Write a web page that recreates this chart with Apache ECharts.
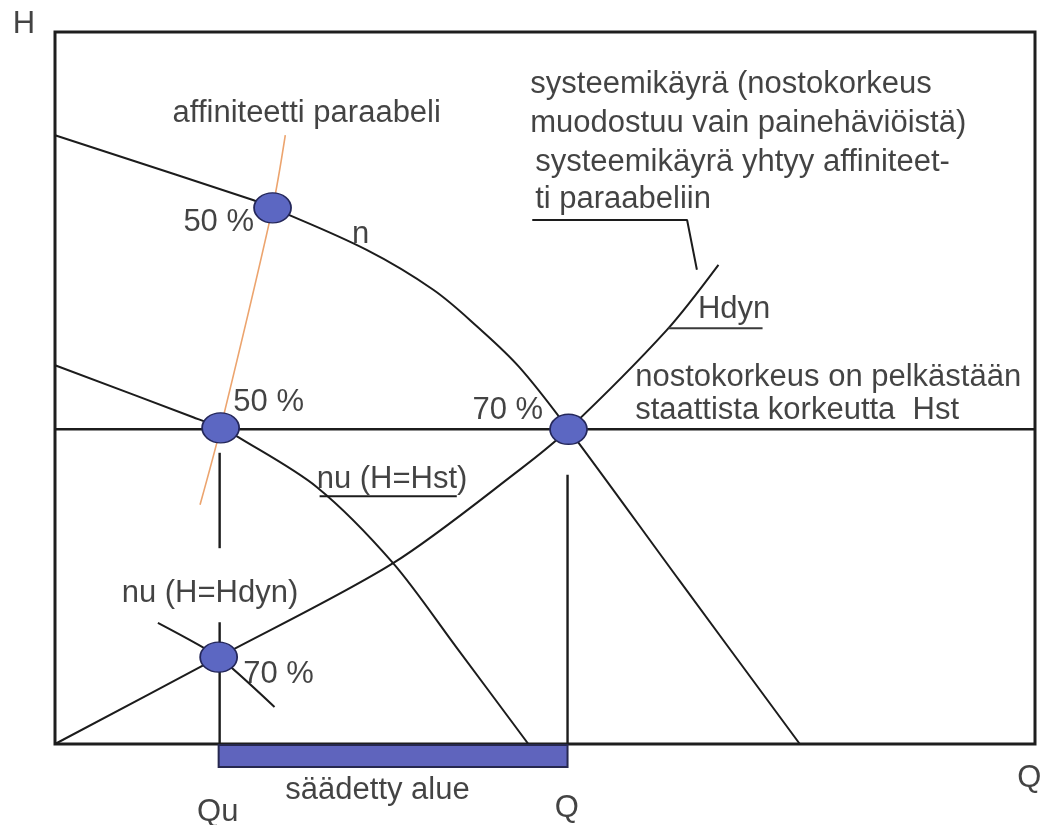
<!DOCTYPE html>
<html>
<head>
<meta charset="utf-8">
<title>Pumpun säätö – Q/H-käyrästö</title>
<script src="https://cdn.jsdelivr.net/npm/echarts@6/dist/echarts.min.js"></script>
<style>
  html, body { margin: 0; padding: 0; background: #ffffff; }
  #chart { width: 1041px; height: 825px; }
</style>
</head>
<body>
<div id="chart"></div>
<script>
// Q = flow, H = head (relative units, 0..100 on both axes)

// Pump curve at full speed n
const curveN = [[0, 85.5], [20.2, 76.4], [22.2, 75.3], [31.8, 69.4], [38.6, 63.8], [43.1, 58.6], [47.4, 52.9], [52.4, 44.2], [63.8, 22.8], [76.0, 0]];
// Pump curve at reduced speed nu (H = Hst)
const curveNuHst = [[0, 53.2], [14.1, 45.9], [16.9, 44.4], [18.7, 43.1], [26.7, 36.1], [34.5, 25.4], [41.0, 13.5], [48.3, 0]];
// System curve (Hdyn)
const curveSystem = [[0, 0], [16.7, 12.2], [34.5, 25.4], [47.4, 38.5], [52.4, 44.2], [62.4, 58.1], [67.7, 67.3]];
// Affinity parabola
const curveAffinity = [[14.8, 33.6], [16.9, 44.4], [22.2, 75.3], [23.5, 85.5]];
// Reduced speed curve nu (H = Hdyn), short piece around its operating point
const curveNuHdyn = [[10.5, 17.0], [16.7, 12.2], [22.4, 5.2]];

// Static head Hst
const hst = 44.2;
// Flow at reduced speed and nominal flow
const qu = 16.8;
const qNom = 52.3;

// Operating points
const pointsOp = [[22.2, 75.3], [16.9, 44.4], [52.4, 44.2], [16.7, 12.2]];

// Vertical guide pieces [q, hFrom, hTo]
const guides = [[qu, 40.9, 27.5], [qu, 17.1, 0], [qNom, 37.8, 0]];

// Leader and underline strokes for the notes
const leaderSystem = [[48.7, 73.6], [64.5, 73.6], [65.5, 66.6]];
const underlineHdyn = [[62.6, 58.4], [72.2, 58.4]];
const underlineNuHst = [[27.0, 34.8], [41.0, 34.8]];

// Notes: [q, h, text], text starts at (q, h), vertically centred
const notes = [
  [-4.3, 101.0, 'H'],
  [12.0, 88.6, 'affiniteetti paraabeli'],
  [13.1, 73.3, '50 %'],
  [30.3, 71.6, 'n'],
  [18.2, 47.9, '50 %'],
  [42.6, 46.9, '70 %'],
  [48.5, 92.6, 'systeemikäyrä (nostokorkeus'],
  [48.5, 87.2, 'muodostuu vain painehäviöistä)'],
  [49.0, 81.7, 'systeemikäyrä yhtyy affiniteet-'],
  [49.0, 76.5, 'ti paraabeliin'],
  [65.6, 61.0, 'Hdyn'],
  [59.2, 51.5, 'nostokorkeus on pelkästään'],
  [59.2, 46.8, 'staattista korkeutta  Hst'],
  [26.7, 37.1, 'nu (H=Hst)'],
  [6.8, 21.2, 'nu (H=Hdyn)'],
  [19.2, 9.7, '70 %'],
  [23.5, -6.5, 'säädetty alue'],
  [14.5, -9.6, 'Qu'],
  [51.0, -9.0, 'Q'],
  [98.2, -4.8, 'Q']
];

const ink = '#1c1c1c';

function lineSeries(name, data, opts) {
  return Object.assign({
    name: name,
    type: 'line',
    data: data,
    symbol: 'none',
    smooth: false,
    silent: true,
    clip: false,
    lineStyle: { color: ink, width: 2 },
    z: 3
  }, opts || {});
}

const series = [
  lineSeries('n', curveN, { smooth: 0.35 }),
  lineSeries('nu (H=Hst)', curveNuHst, { smooth: 0.3 }),
  lineSeries('Hdyn', curveSystem, { smooth: 0.3 }),
  lineSeries('nu (H=Hdyn)', curveNuHdyn, { smooth: 0.2 }),
  lineSeries('affiniteetti paraabeli', curveAffinity, { smooth: 0.3, lineStyle: { color: '#eca46e', width: 1.6 }, z: 2 }),
  lineSeries('Hst', [[0, hst], [100, hst]], { lineStyle: { color: ink, width: 2.6 } }),
  lineSeries('leader-system', leaderSystem, { lineStyle: { color: ink, width: 2 } }),
  lineSeries('underline-hdyn', underlineHdyn, { lineStyle: { color: '#3a3a3a', width: 2 } }),
  lineSeries('underline-nuhst', underlineNuHst, { lineStyle: { color: ink, width: 2 } })
];

guides.forEach(function (g, i) {
  series.push(lineSeries('guide-' + i, [[g[0], g[1]], [g[0], g[2]]], { lineStyle: { color: ink, width: 2.4 } }));
});

// Controlled range bar under the Q axis, between Qu and Q
series.push({
  name: 'säädetty alue',
  type: 'custom',
  silent: true,
  clip: false,
  z: 4,
  data: [[qu, qNom]],
  renderItem: function (params, api) {
    const a = api.coord([api.value(0), 0]);
    const b = api.coord([api.value(1), 0]);
    return {
      type: 'rect',
      shape: { x: a[0] - 1, y: a[1] + 1, width: b[0] - a[0] + 1, height: 22 },
      style: { fill: '#5f64bd', stroke: '#26284f', lineWidth: 2 }
    };
  }
});

// Operating points
series.push({
  name: 'points',
  type: 'scatter',
  data: pointsOp,
  symbol: 'circle',
  symbolSize: [37, 30],
  silent: true,
  clip: false,
  itemStyle: { color: '#5c67c2', borderColor: '#24275a', borderWidth: 1.6, opacity: 1 },
  z: 6
});

// Text notes
series.push({
  name: 'notes',
  type: 'scatter',
  data: notes.map(function (n) { return { value: [n[0], n[1]], label: { formatter: n[2] } }; }),
  symbolSize: 0,
  silent: true,
  clip: false,
  label: {
    show: true,
    position: 'right',
    distance: 0,
    color: '#141414',
    fontFamily: '"Liberation Sans", Arial, sans-serif',
    fontSize: 31,
    align: 'left',
    verticalAlign: 'middle'
  },
  z: 8
});

const chart = echarts.init(document.getElementById('chart'), null, { renderer: 'canvas' });
chart.setOption({
  backgroundColor: '#ffffff',
  animation: false,
  grid: {
    left: 55, top: 32, width: 980, height: 712,
    show: true, borderColor: '#1e1e1e', borderWidth: 3, backgroundColor: 'transparent'
  },
  xAxis: {
    type: 'value', min: 0, max: 100,
    axisLine: { show: false }, axisTick: { show: false }, axisLabel: { show: false }, splitLine: { show: false }
  },
  yAxis: {
    type: 'value', min: 0, max: 100,
    axisLine: { show: false }, axisTick: { show: false }, axisLabel: { show: false }, splitLine: { show: false }
  },
  tooltip: { show: false },
  series: series
});
</script>
</body>
</html>
